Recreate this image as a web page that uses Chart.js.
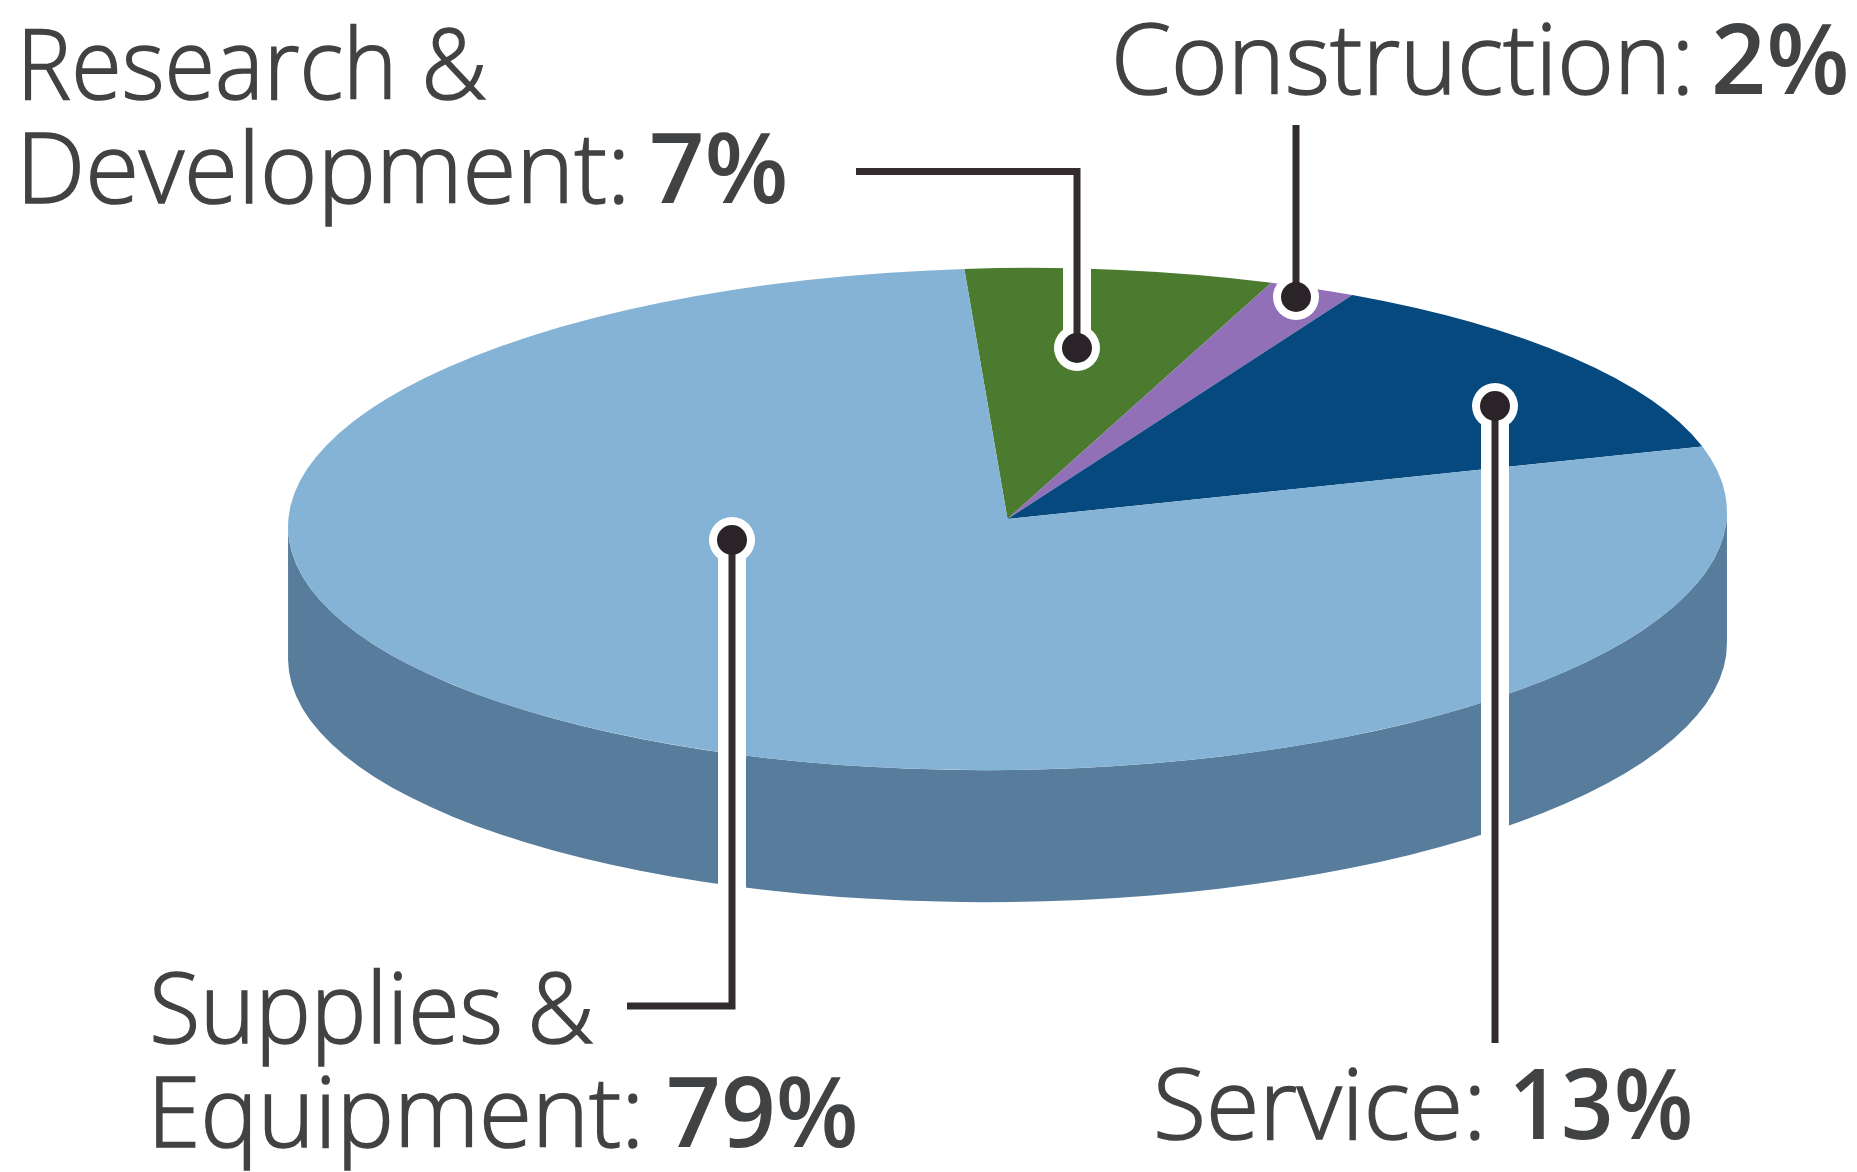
<!DOCTYPE html>
<html><head><meta charset="utf-8">
<style>html,body{margin:0;padding:0;background:#fff;overflow:hidden}canvas{display:block}</style>
<script src="https://cdn.jsdelivr.net/npm/chart.js@4/dist/chart.umd.js"></script>
</head><body><canvas id="c" width="1857" height="1172"></canvas>
<script>
const categories = ["Research & Development", "Construction", "Service", "Supplies & Equipment"];
const percents = [7, 2, 13, 79];
const sliceColors = ["#4a7b2f", "#9270b8", "#05497f", "#84b3d5"];
const wallColor = "#587c9b";

const pie = {cx:1007.5, cy:519, rx:719.5, ry:251, depth:132, rotation:-3.2, tilt:-0.012};
const FONT = '"Open Sans"';
const SIZE = 98;
// each run: text, bold flag, left x, right x, baseline y
const labelRuns = [
  ["Research &", 0, 25, 485, 99],
  ["Development:", 0, 25, 623, 203],
  ["7%", 1, 652, 785, 203],
  ["Construction:", 0, 1117, 1687, 94],
  ["2%", 1, 1715, 1846, 94],
  ["Supplies &", 0, 154, 592, 1043],
  ["Equipment:", 0, 156, 637, 1147],
  ["79%", 1, 669, 855, 1147],
  ["Service:", 0, 1158, 1479, 1139],
  ["13%", 1, 1515, 1690, 1139]
];
// leader polylines, the first point is the dot
const leaders = [
  [[1077,348],[1077,171.5],[856,171.5]],
  [[1296,297],[1296,125]],
  [[1495,406],[1495,1043]],
  [[732,540],[732,1006],[627,1006]]
];
const haloEnds = [[1077,268],[1296,268],[1495,850],[732,890]];

const geometry = {
  id:'geometry',
  beforeDatasetsDraw(chart){
    const ctx = chart.ctx, a = chart.getDatasetMeta(0).data[0];
    ctx.save();
    ctx.fillStyle = wallColor;
    ctx.beginPath();
    ctx.ellipse(pie.cx,pie.cy,pie.rx,pie.ry,pie.tilt,0,Math.PI);
    ctx.ellipse(pie.cx,pie.cy+pie.depth,pie.rx,pie.ry,pie.tilt,Math.PI,0,true);
    ctx.closePath(); ctx.fill();
    ctx.restore();
    ctx.save();
    ctx.translate(pie.cx,pie.cy);
    ctx.rotate(pie.tilt);
    ctx.scale(pie.rx/a.outerRadius,pie.ry/a.outerRadius);
    ctx.translate(-a.x,-a.y);
  },
  afterDatasetsDraw(chart){ chart.ctx.restore(); },
  afterDraw(chart){
    const ctx = chart.ctx;
    ctx.save();
    ctx.lineCap='butt'; ctx.lineJoin='miter';
    leaders.forEach((pts,i)=>{
      const d=pts[0], h=haloEnds[i];
      ctx.strokeStyle='#fff'; ctx.lineWidth=28;
      ctx.beginPath(); ctx.moveTo(d[0],d[1]); ctx.lineTo(h[0],h[1]); ctx.stroke();
      ctx.fillStyle='#fff'; ctx.beginPath(); ctx.arc(d[0],d[1],23,0,7); ctx.fill();
    });
    leaders.forEach(pts=>{
      ctx.strokeStyle='#322c2e'; ctx.lineWidth=7;
      ctx.beginPath(); pts.forEach((p,j)=>j?ctx.lineTo(p[0],p[1]):ctx.moveTo(p[0],p[1])); ctx.stroke();
      ctx.fillStyle='#2a2428'; ctx.beginPath(); ctx.arc(pts[0][0],pts[0][1],15,0,7); ctx.fill();
    });
    ctx.fillStyle='#414244'; ctx.strokeStyle='#414244'; ctx.textBaseline='alphabetic'; ctx.textAlign='left';
    labelRuns.forEach(([t,b,l,r,y])=>{
      ctx.font=(b?'600 ':'300 ')+SIZE+'px '+FONT;
      const m=ctx.measureText(t);
      const natural=m.actualBoundingBoxRight+m.actualBoundingBoxLeft;
      const sx=(r-l)/natural;
      ctx.save(); ctx.translate(l,y); ctx.scale(sx,1);
      ctx.fillText(t,m.actualBoundingBoxLeft,0);
      if(!b){ ctx.lineWidth=1.6; ctx.strokeText(t,m.actualBoundingBoxLeft,0); }
      ctx.restore();
    });
    ctx.restore();
  }
};

function start(){
  new Chart(document.getElementById('c'),{
    type:'pie',
    data:{labels:categories,datasets:[{data:percents,backgroundColor:sliceColors,borderWidth:0,clip:false}]},
    options:{responsive:false,animation:false,rotation:pie.rotation,events:[],
      plugins:{legend:{display:false},tooltip:{enabled:false}}},
    plugins:[geometry]
  });
}
if(document.fonts&&document.fonts.load){
  Promise.all([document.fonts.load('300 98px "Open Sans"'),document.fonts.load('600 98px "Open Sans"')]).then(start,start);
}else start();
</script></body></html>
